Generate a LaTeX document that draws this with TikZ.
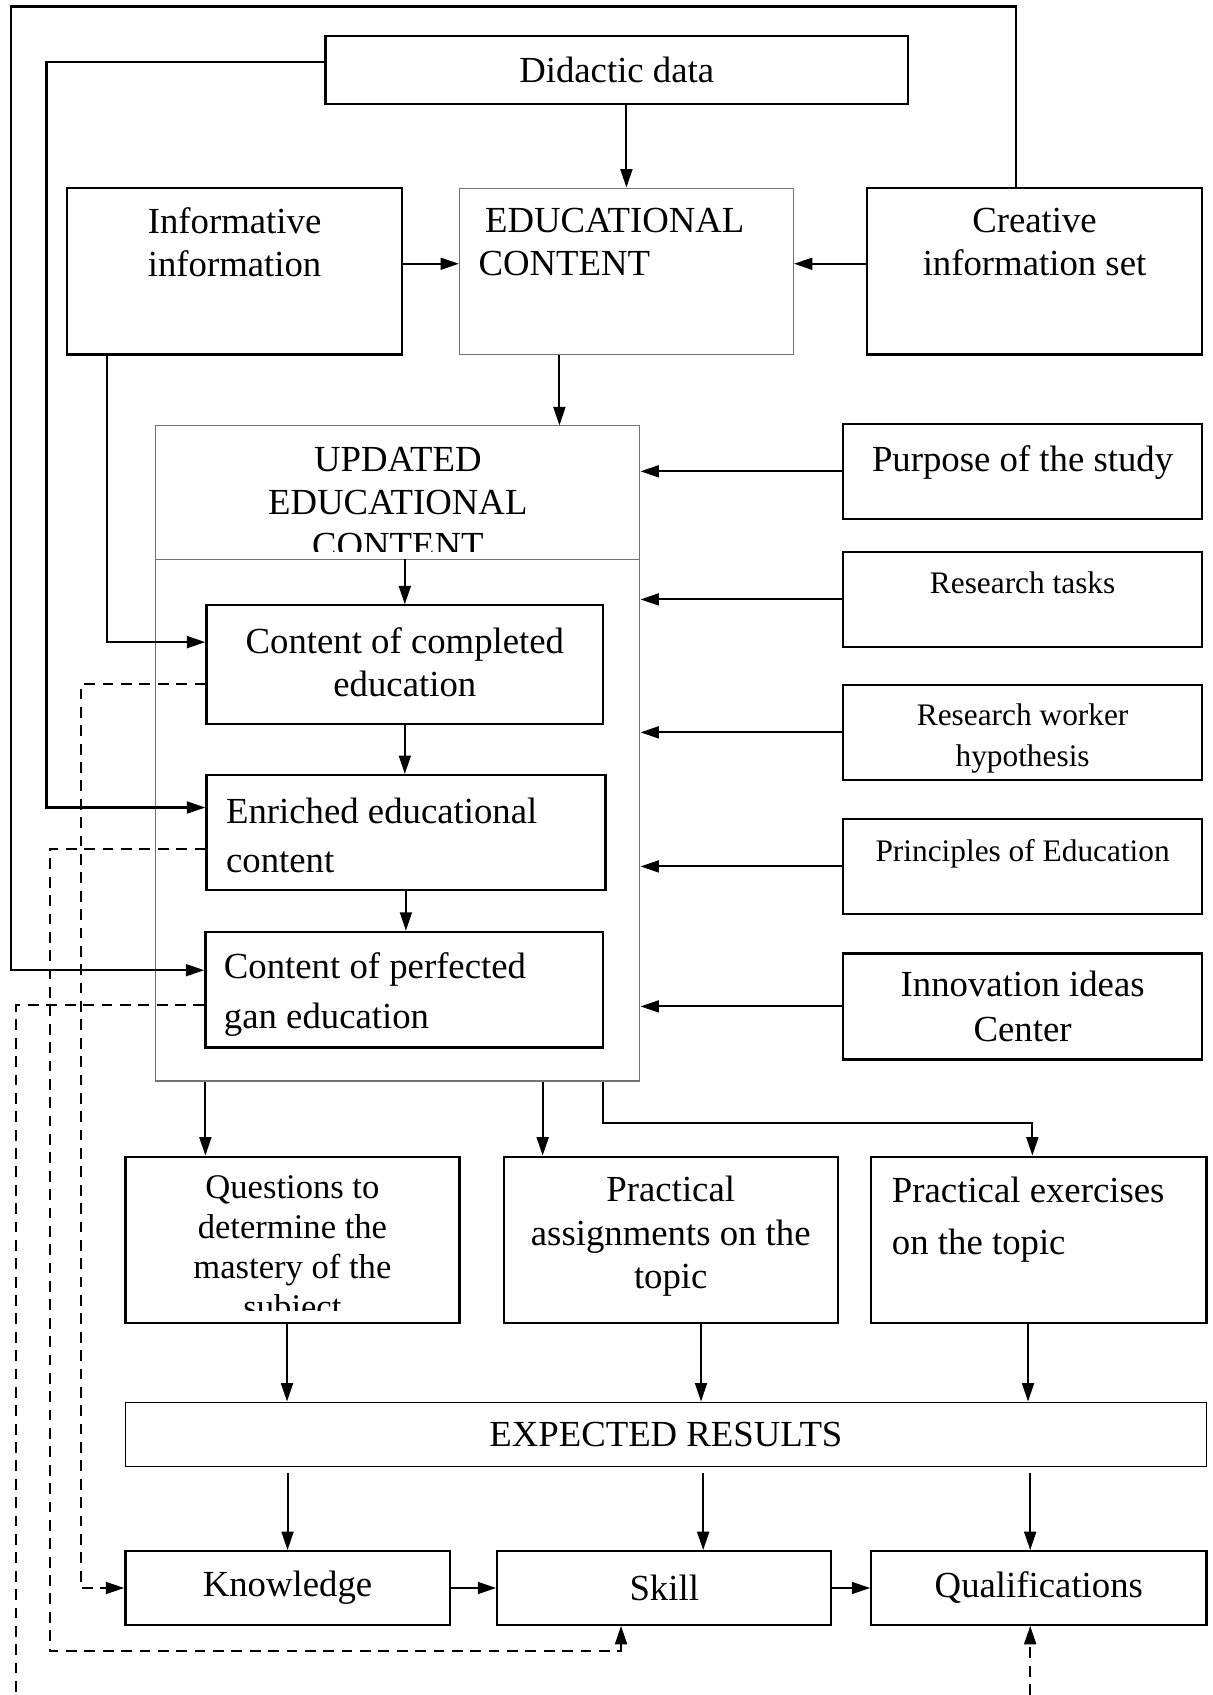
\documentclass[tikz,border=0pt]{standalone}
\usepackage{fontspec}
\setmainfont{Liberation Serif}
\usepackage{tikz}
\usetikzlibrary{arrows.meta, positioning, calc}

\begin{document}
\begin{tikzpicture}[
    x=1pt, y=-1pt,
    every node/.style={font=\fontsize{34}{40}\selectfont},
    box/.style={draw, line width=2.1pt, inner sep=0pt, align=center},
    lite/.style={draw=black!55, line width=1pt, inner sep=0pt, align=center},
    side/.style={box, minimum width=332pt, minimum height=88pt},
    low/.style={box, minimum width=309pt, minimum height=154pt},
    res/.style={box, minimum height=68pt},
    txt/.style={inner sep=0pt, align=center},
    small/.style={font=\fontsize{29}{38}\selectfont},
    arr/.style={line width=1.9pt, -{Triangle[length=17pt,width=11pt]}},
    dsh/.style={line width=1.9pt, dash pattern=on 10pt off 7pt}
  ]
  \useasboundingbox (0,0) rectangle (1122,1568);

  \node[box, minimum width=539pt, minimum height=63pt] (did) at (570.5,64.5) {Didactic data};
  \node[box, minimum width=310pt, minimum height=154pt] (inf) at (217,251) {};
  \node[lite, minimum width=309pt, minimum height=154pt] (edu) at (579.5,251) {};
  \node[box, minimum width=310pt, minimum height=154pt] (cre) at (957,251) {};
  \node[txt, below=19pt of inf.north] (inft) {Informative\\information};
  \node[txt, align=left, below right=19pt and 18pt of edu.north west] (edut) {\hspace{6pt}EDUCATIONAL\\CONTENT};
  \node[txt, below=19pt of cre.north] (cret) {Creative\\information set};

  \node[lite, minimum width=448pt, minimum height=606pt] (upd) at (368,697) {};
  \begin{scope}
    \clip (144,394) rectangle (592,510);
    \node[txt, below=20pt of upd.north] (updt) {UPDATED\\EDUCATIONAL\\CONTENT};
  \end{scope}
  \coordinate (dv) at ([yshift=-124pt]upd.north west);
  \draw[black!55, line width=1pt] (dv) -- (dv -| upd.east);

  \node[box, minimum width=367pt, minimum height=110pt] (cmp) at (374.5,615) {};
  \node[box, minimum width=369pt, minimum height=106pt] (enr) at (375.5,770) {};
  \node[box, minimum width=368pt, minimum height=107pt] (prf) at (374,915.5) {};
  \node[txt, below=21pt of cmp.north] (cmpt) {Content of completed\\education};
  \node[txt, align=left, font=\fontsize{34}{45}\selectfont, below right=22pt and 19pt of enr.north west] (enrt) {Enriched educational\\content};
  \node[txt, align=left, font=\fontsize{34}{46}\selectfont, below right=20pt and 18pt of prf.north west] (prft) {Content of perfected\\gan education};

  \node[side] (pur) at (946,436) {};
  \node[side] (tsk) at (946,554.5) {};
  \node[side] (hyp) at (946,677.5) {};
  \node[side] (pri) at (946,801.5) {};
  \node[side, minimum height=98pt, font=\fontsize{34}{41}\selectfont] (inn) at (946,931) {Innovation ideas\\Center};
  \node[txt, below=21pt of pur.north] (purt) {Purpose of the study};
  \node[txt, small, below=19.5pt of tsk.north] (tskt) {Research tasks};
  \node[txt, small, below=18.5pt of hyp.north] (hypt) {Research worker\\hypothesis};
  \node[txt, small, below=19.5pt of pri.north] (prit) {Principles of Education};

  \node[low] (qst) at (270.5,1147) {};
  \node[low] (pas) at (620.5,1147) {};
  \node[low, minimum width=310pt] (pex) at (961,1147) {};
  \begin{scope}
    \clip (116,1070) rectangle (425,1212);
    \node[txt, font=\fontsize{32}{37}\selectfont, below=18pt of qst.north] (qstt) {Questions to\\determine the\\mastery of the\\subject};
  \end{scope}
  \node[txt, below=19pt of pas.north] (past) {Practical\\assignments on the\\topic};
  \node[txt, align=left, font=\fontsize{34}{48}\selectfont, below right=20pt and 20pt of pex.north west] (pext) {Practical exercises\\on the topic};

  \node[lite, draw=black, minimum width=1000pt, minimum height=60pt] (exp) at (616,1327) {EXPECTED RESULTS};
  \node[res, minimum width=300pt] (kno) at (266,1469) {Knowledge};
  \node[res, minimum width=309pt] (ski) at (614.5,1469) {Skill};
  \node[res, minimum width=310pt] (qua) at (961,1469) {Qualifications};

  \draw[arr] (did.south -| edu.north) -- (edu.north);
  \draw[arr] ([yshift=7pt]inf.east) -- ([yshift=7pt]edu.west);
  \draw[arr] ([yshift=7pt]cre.west) -- ([yshift=7pt]edu.east);
  \coordinate (e1) at ([xshift=-62pt]edu.south);
  \draw[arr] (e1) -- (e1 |- upd.north);

  \coordinate (c1) at ([xshift=-17pt]cre.north);
  \coordinate (tl) at (10,6);
  \draw[arr] (c1) |- (tl) |- ([yshift=18pt]prf.west);
  \coordinate (dl) at (43,57);
  \draw[arr] (dl -| did.west) -- (dl) |- ([yshift=23pt]enr.west);
  \coordinate (i1) at ([xshift=-118pt]inf.south);
  \draw[arr] (i1) |- ([yshift=21pt]cmp.west);

  \draw[arr] (dv -| cmp.north) -- (cmp.north);
  \draw[arr] (cmp.south) -- (cmp.south |- enr.north);
  \draw[arr] (enr.south) -- (enr.south |- prf.north);
  \foreach \n in {pur,tsk,hyp,pri,inn}
    \draw[arr] (\n.west) -- (\n.west -| upd.east);

  \coordinate (u1) at ([xshift=-178pt]upd.south);
  \coordinate (u2) at ([xshift=134pt]upd.south);
  \coordinate (u3) at ([xshift=190pt]upd.south);
  \draw[arr] (u1) -- (u1 |- qst.north);
  \draw[arr] (u2) -- (u2 |- pas.north);
  \draw[arr] (u3) -- ++(0,38) -| ([xshift=-6pt]pex.north);

  \foreach \n/\dx in {qst/-5,pas/28,pex/-10} {
    \coordinate (t) at ([xshift=\dx pt]\n.south);
    \draw[arr] (t) -- (t |- exp.north);
  }
  \foreach \n/\dx in {kno/0,ski/36,qua/-8} {
    \coordinate (t) at ([xshift=\dx pt]\n.north);
    \coordinate (s) at (t |- exp.south);
    \draw[arr] ([yshift=-5pt]s) -- (t);
  }
  \draw[arr] (kno.east) -- (ski.west);
  \draw[arr] (ski.east) -- (qua.west);

  \draw[dsh, arr] ([yshift=-18pt]cmp.west) -| ([xshift=-40pt]kno.west) -- (kno.west);
  \coordinate (dl2) at (46,1527);
  \draw[dsh, arr] ([yshift=-15pt]enr.west) -| (dl2) -| ([xshift=-40pt]ski.south);
  \coordinate (bl) at (15,1568);
  \draw[dsh] ([yshift=-14.5pt]prf.west) -| (bl);
  \coordinate (q1) at ([xshift=-8pt]qua.south);
  \draw[dsh, arr] (q1 |- bl) -- (q1);
\end{tikzpicture}
\end{document}
